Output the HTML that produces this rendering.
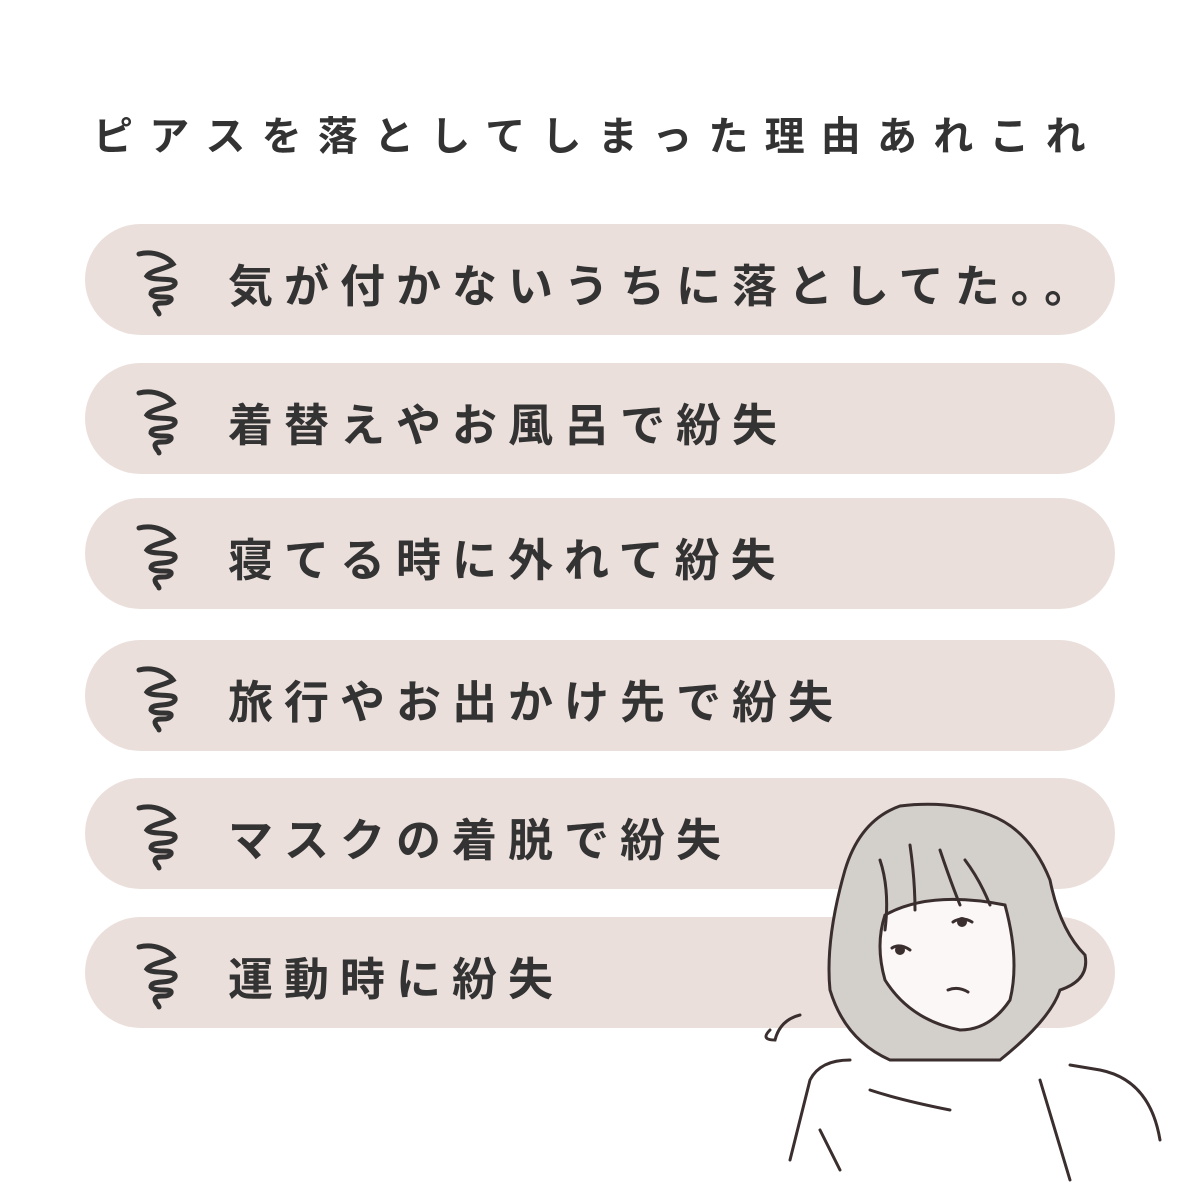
<!DOCTYPE html>
<html><head><meta charset="utf-8"><style>
body{margin:0;width:1200px;height:1200px;background:#fff;position:relative;overflow:hidden;font-family:"Liberation Sans","Noto Sans CJK JP",sans-serif;color:#333}
.t{position:absolute;left:93px;top:104px;font-size:40px;letter-spacing:16.2px;font-weight:700;white-space:nowrap}
.p{position:absolute;left:85px;width:1030px;height:111px;border-radius:56px;background:#ebdfdb}
.p span{position:absolute;left:143px;top:26px;font-size:45px;letter-spacing:11px;font-weight:700;white-space:nowrap}
.p svg{position:absolute;left:48px;top:22px}
</style></head><body>
<div class="t">ピアスを落としてしまった理由あれこれ</div>
<div class="p" style="top:224px"><svg width="60" height="72" viewBox="0 0 60 72"><path d="M6 8 C22 4 36 12 40 18 C30 24 18 24 14 30 C20 36 44 30 42 38 C38 46 18 40 18 48 C22 54 40 48 38 54 C34 60 24 54 22 60 C22 64 26 66 26 68" fill="none" stroke="#333" stroke-width="5" stroke-linecap="round"/></svg><span>気が付かないうちに落としてた。。</span></div>
<div class="p" style="top:363px"><svg width="60" height="72" viewBox="0 0 60 72"><path d="M6 8 C22 4 36 12 40 18 C30 24 18 24 14 30 C20 36 44 30 42 38 C38 46 18 40 18 48 C22 54 40 48 38 54 C34 60 24 54 22 60 C22 64 26 66 26 68" fill="none" stroke="#333" stroke-width="5" stroke-linecap="round"/></svg><span>着替えやお風呂で紛失</span></div>
<div class="p" style="top:498px"><svg width="60" height="72" viewBox="0 0 60 72"><path d="M6 8 C22 4 36 12 40 18 C30 24 18 24 14 30 C20 36 44 30 42 38 C38 46 18 40 18 48 C22 54 40 48 38 54 C34 60 24 54 22 60 C22 64 26 66 26 68" fill="none" stroke="#333" stroke-width="5" stroke-linecap="round"/></svg><span>寝てる時に外れて紛失</span></div>
<div class="p" style="top:640px"><svg width="60" height="72" viewBox="0 0 60 72"><path d="M6 8 C22 4 36 12 40 18 C30 24 18 24 14 30 C20 36 44 30 42 38 C38 46 18 40 18 48 C22 54 40 48 38 54 C34 60 24 54 22 60 C22 64 26 66 26 68" fill="none" stroke="#333" stroke-width="5" stroke-linecap="round"/></svg><span>旅行やお出かけ先で紛失</span></div>
<div class="p" style="top:778px"><svg width="60" height="72" viewBox="0 0 60 72"><path d="M6 8 C22 4 36 12 40 18 C30 24 18 24 14 30 C20 36 44 30 42 38 C38 46 18 40 18 48 C22 54 40 48 38 54 C34 60 24 54 22 60 C22 64 26 66 26 68" fill="none" stroke="#333" stroke-width="5" stroke-linecap="round"/></svg><span>マスクの着脱で紛失</span></div>
<div class="p" style="top:917px"><svg width="60" height="72" viewBox="0 0 60 72"><path d="M6 8 C22 4 36 12 40 18 C30 24 18 24 14 30 C20 36 44 30 42 38 C38 46 18 40 18 48 C22 54 40 48 38 54 C34 60 24 54 22 60 C22 64 26 66 26 68" fill="none" stroke="#333" stroke-width="5" stroke-linecap="round"/></svg><span>運動時に紛失</span></div>
<svg style="position:absolute;left:0;top:0" width="1200" height="1200" viewBox="0 0 1200 1200">
<path d="M760 1200 L790 1150 Q810 1070 850 1060 L900 1030 L1000 1030 Q1060 1060 1090 1060 Q1140 1070 1160 1140 L1170 1200 Z" fill="#fff"/>
<path d="M900 806 Q860 820 845 870 Q825 940 830 990 Q845 1040 890 1060 L1000 1060 Q1050 1020 1060 990 Q1090 980 1085 955 Q1060 930 1050 880 Q1030 830 990 815 Q950 800 900 806 Z" fill="#d3cfcb" stroke="#3a2e2e" stroke-width="3"/>
<path d="M885 915 Q930 890 1005 905 Q1020 960 1010 1000 Q990 1030 960 1030 Q910 1020 885 980 Q875 945 885 915 Z" fill="#fbf7f7" stroke="#3a2e2e" stroke-width="3"/>
<g fill="none" stroke="#3a2e2e" stroke-width="3" stroke-linecap="round">
<path d="M880 860 Q890 890 885 930 M910 845 Q915 880 915 910 M940 850 Q950 880 960 905 M965 860 Q980 880 990 905"/>
<path d="M892 948 Q900 943 910 950 M953 922 Q962 916 972 922 M948 990 Q958 986 968 992"/>
<path d="M790 1160 L810 1080 Q820 1060 850 1060 M1160 1140 Q1150 1080 1100 1070 L1070 1065 M870 1090 Q900 1100 950 1110 M1040 1080 L1070 1180 M820 1130 L840 1170 M770 1030 Q760 1040 775 1040 Q780 1020 800 1015"/>
</g>
<circle cx="900" cy="950" r="5" fill="#3a2e2e"/><circle cx="962" cy="922" r="5" fill="#3a2e2e"/>
</svg>
</body></html>
